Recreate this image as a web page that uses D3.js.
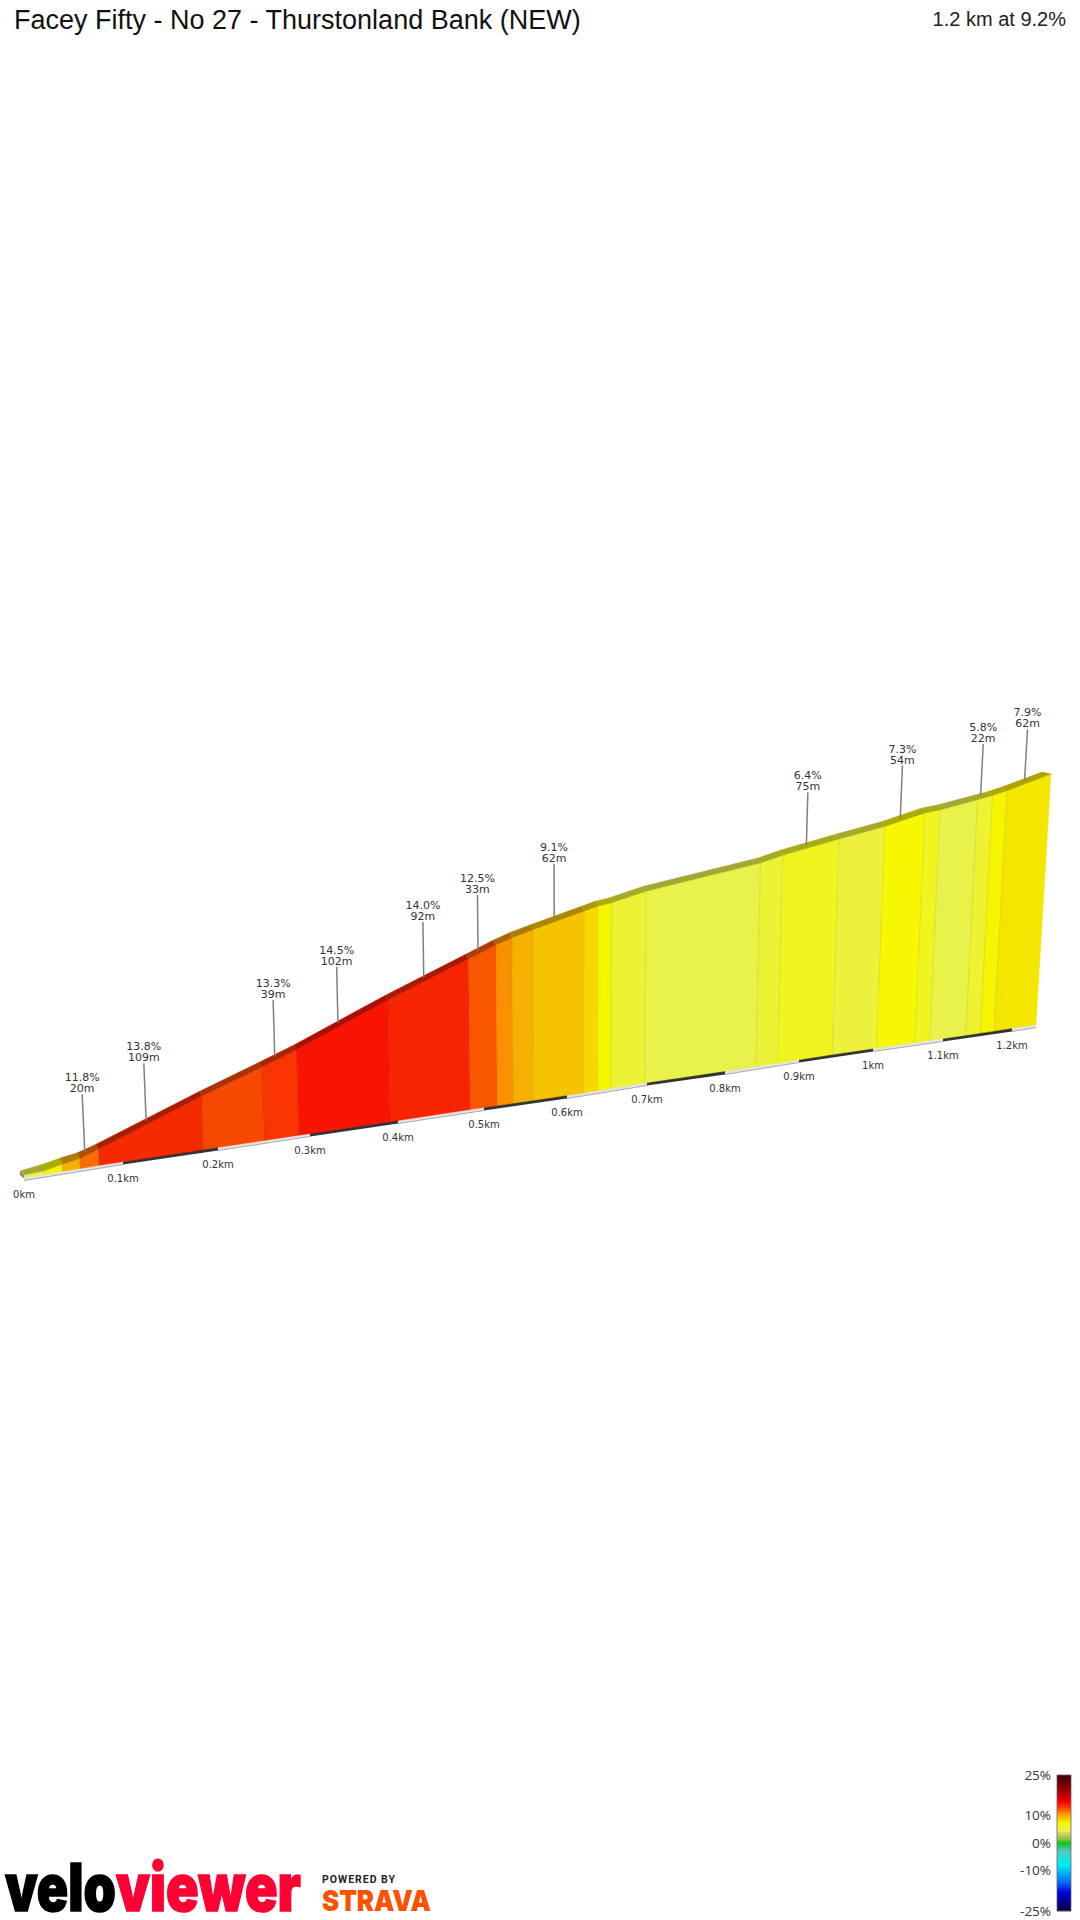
<!DOCTYPE html>
<html><head><meta charset="utf-8">
<script src="https://cdn.jsdelivr.net/npm/d3@7/dist/d3.min.js"></script>
<style>html,body{margin:0;padding:0;background:#fff}svg{display:block}</style>
</head><body><svg id="c" width="1080" height="1920"></svg>
<script>
const titleText = "Facey Fifty - No 27 - Thurstonland Bank (NEW)";
const summaryText = "1.2 km at 9.2%";
// distance ticks (km) with labels
const tickKm = [0,0.1,0.2,0.3,0.4,0.5,0.6,0.7,0.8,0.9,1,1.1,1.2];
const tickLabels = ["0km","0.1km","0.2km","0.3km","0.4km","0.5km","0.6km","0.7km","0.8km","0.9km","1km","1.1km","1.2km"];
const endKm = 1.235;
// segment boundaries (km) and elevation gained at each (m)
const segKm = [0,.021,.039,.057,.076,.185,.25,.288,.391,.484,.516,.535,.56,.621,.638,.655,.697,.842,.871,.945,1.005,1.06,1.081,1.133,1.154,1.174,1.235];
const segElev = [0,.4,1.9,3.1,5.6,21.2,29.6,34.7,50,62.4,66.7,68.9,71.1,76,77.4,78,81,87.4,89.5,93.7,97,101.2,101.8,104.7,105.9,107.4,112.7];
// gradient of each segment (%)
const segGrade = [4.5,7,10,11.8,13.8,12.8,13.3,14.5,14,12.5,11,10,9.1,8.5,7,5.5,4.5,5.5,6.4,5,7.3,6.4,4.5,5.8,7,7.9];
// labelled segments
const calloutSeg = [3,4,6,7,8,9,12,18,20,23,25];
const calloutGrade = ["11.8%","13.8%","13.3%","14.5%","14.0%","12.5%","9.1%","6.4%","7.3%","5.8%","7.9%"];
const calloutLen = ["20m","109m","39m","102m","92m","33m","62m","75m","54m","22m","62m"];
// colour key
const legendTicks = [25,10,0,-10,-25];
const rampGrade = [25,20,15,14.5,14,13.8,13.3,12.8,12.5,11.8,11,10,9.1,8.5,7.9,7.3,7,6.4,5.8,5,4.5,3,1,0,-3,-8,-15,-18,-25];
const rampColor = ["#3a0000","#900000","#f80000","#f81400","#f72400","#f52a00","#f83400","#f64800","#f95600","#f96c00","#f99000","#f6b000","#f5c400","#f8d800","#f5e600","#f6f700","#f5f500","#f0f520","#eef230","#ecf23c","#e9f248","#c8c860","#70c040","#10c810","#50c8c8","#00f0f0","#0060f0","#0000e0","#000040"];

const color = d3.scaleLinear().domain(rampGrade).range(rampColor).clamp(true);
// perspective ground projection
const xKm = d3.scaleLinear().domain(tickKm.concat(endKm)).range([24,123,218,310,398,484,567,647,725,799,873,943,1012,1036]);
const yKm = d3.scaleLinear().domain(tickKm.concat(endKm)).range([1178,1162,1148,1134,1121,1108,1096,1083,1072,1060,1049,1039,1029,1025]);
const pxPerM = d3.scaleLinear().domain([0,.6,endKm]).range([2.42,2.36,2.2]);
const lean = d3.scaleLinear().domain([0,.62,endKm]).range([-.05,0,.06]);
const backDx = d3.scaleLinear().domain([0,.02,1.1,endKm]).range([-4,-2,-3,-9]);
const backDy = d3.scaleLinear().domain([0,.02,.1,1.1,endKm]).range([-4,-6.5,-5,-5,-2]);
const leaderLen = d3.scaleLinear().domain([0,endKm]).range([58,51]);
const floorPx = 2.5;
const foot = k => [xKm(k), yKm(k)-0.5];
const head = (k,e) => { const H = floorPx + e*pxPerM(k); return [xKm(k)+H*lean(k), yKm(k)-0.5-H]; };
const back = (k,e) => { const p = head(k,e); return [p[0]+backDx(k), p[1]+backDy(k)]; };
const path = d3.line();
const segs = segGrade.map((g,i)=>({g,i,k0:segKm[i],k1:segKm[i+1],e0:segElev[i],e1:segElev[i+1]}));

const svg = d3.select("#c");
const font = "'DejaVu Sans',sans-serif";

svg.append("text").attr("x",14).attr("y",29).attr("font-family","'Liberation Sans',Arial,sans-serif").attr("font-size",27).attr("fill","#111").text(titleText);
svg.append("text").attr("x",1066).attr("y",26).attr("text-anchor","end").attr("font-family","'Liberation Sans',Arial,sans-serif").attr("font-size",20).attr("fill","#222").text(summaryText);

// ground ribbon
const ribbonStops = tickKm.concat(endKm);
const ribbon = d3.pairs(ribbonStops).map((p,i)=>({k0:p[0],k1:p[1],dark:i%2===1}));
svg.append("g").selectAll("path").data(ribbon).join("path")
  .attr("d",d=>path([[xKm(d.k0),yKm(d.k0)-1.5],[xKm(d.k1),yKm(d.k1)-1.5],[xKm(d.k1),yKm(d.k1)+2.5],[xKm(d.k0),yKm(d.k0)+2.5]])+"Z")
  .attr("fill",d=>d.dark?"#333":"#e4e4e4");
svg.append("g").selectAll("line").data(ribbon.filter(d=>!d.dark)).join("line")
  .attr("x1",d=>xKm(d.k0)).attr("y1",d=>yKm(d.k0)+2.5).attr("x2",d=>xKm(d.k1)).attr("y2",d=>yKm(d.k1)+2.5)
  .attr("stroke","#aaa").attr("stroke-width",1);

// walls
svg.append("g").selectAll("path").data(segs).join("path")
  .attr("d",d=>path([foot(d.k0),foot(d.k1),head(d.k1,d.e1),head(d.k0,d.e0)])+"Z")
  .attr("fill",d=>color(d.g)).attr("stroke",d=>color(d.g)).attr("stroke-width",.4);
// segment separators
svg.append("g").selectAll("line").data(segs.slice(1)).join("line")
  .attr("x1",d=>foot(d.k0)[0]).attr("y1",d=>foot(d.k0)[1])
  .attr("x2",d=>head(d.k0,d.e0)[0]).attr("y2",d=>head(d.k0,d.e0)[1])
  .attr("stroke","#000").attr("stroke-opacity",.09).attr("stroke-width",1);
// left end cap
svg.append("path").attr("d",path([[foot(0)[0],foot(0)[1]+1],head(0,0),back(0,0),[back(0,0)[0],back(0,0)[1]+4]])+"Z").attr("fill","#8a8a8a");
// top surface
svg.append("g").selectAll("path").data(segs).join("path")
  .attr("d",d=>path([head(d.k0,d.e0),head(d.k1,d.e1),back(d.k1,d.e1),back(d.k0,d.e0)])+"Z")
  .attr("fill",d=>d3.rgb(color(d.g)).darker(1)).attr("stroke",d=>d3.rgb(color(d.g)).darker(1)).attr("stroke-width",.4);

// distance labels
svg.append("g").selectAll("text").data(tickKm).join("text")
  .attr("x",d=>xKm(d)).attr("y",d=>yKm(d)+20).attr("text-anchor","middle")
  .attr("font-family",font).attr("font-size",10).attr("fill","#333")
  .text((d,i)=>tickLabels[i]);

// callouts
const calloutData = calloutSeg.map((s,i)=>{
  const k=(segKm[s]+segKm[s+1])/2, e=(segElev[s]+segElev[s+1])/2, p=head(k,e);
  const end=[p[0]-4.5,p[1]-2], L=leaderLen(k);
  return {end,top:[end[0]+L*lean(k),end[1]-L],a:calloutGrade[i],b:calloutLen[i]};
});
const cg = svg.append("g").selectAll("g").data(calloutData).join("g");
cg.append("line").attr("x1",d=>d.top[0]).attr("y1",d=>d.top[1]).attr("x2",d=>d.end[0]).attr("y2",d=>d.end[1]).attr("stroke","#808080").attr("stroke-width",1.5);
cg.append("text").attr("x",d=>d.top[0]).attr("y",d=>d.top[1]-13).attr("text-anchor","middle").attr("font-family",font).attr("font-size",11).attr("fill","#333").text(d=>d.a);
cg.append("text").attr("x",d=>d.top[0]).attr("y",d=>d.top[1]-2).attr("text-anchor","middle").attr("font-family",font).attr("font-size",11).attr("fill","#333").text(d=>d.b);

// colour key
const yLegend = d3.scaleLinear().domain([25,-25]).range([1775,1911]);
svg.append("g").selectAll("rect").data(d3.range(1775,1911)).join("rect")
  .attr("x",1057).attr("width",14).attr("y",d=>d).attr("height",1.2)
  .attr("fill",d=>color(yLegend.invert(d+.5)));
svg.append("rect").attr("x",1057).attr("y",1775).attr("width",14).attr("height",136).attr("fill","none").attr("stroke","#7a5a7a").attr("stroke-width",.8);
svg.append("g").selectAll("text").data(legendTicks).join("text")
  .attr("x",1051).attr("y",d=>yLegend(d)+4.5).attr("text-anchor","end")
  .attr("font-family","'Open Sans',sans-serif").attr("font-size",13.5).attr("fill","#333").text(d=>d+"%");

// branding
const logoFont="Inter,'Open Sans',sans-serif";
svg.append("text").attr("x",5).attr("y",1911).attr("font-family",logoFont).attr("font-weight",900).attr("font-size",66)
  .attr("textLength",111).attr("lengthAdjust","spacingAndGlyphs").attr("fill","#000").attr("stroke","#000").attr("stroke-width",1.5).text("velo");
svg.append("text").attr("x",116).attr("y",1911).attr("font-family",logoFont).attr("font-weight",900).attr("font-size",66)
  .attr("textLength",185).attr("lengthAdjust","spacingAndGlyphs").attr("fill","#ff0033").attr("stroke","#ff0033").attr("stroke-width",1.5).text("viewer");
svg.append("text").attr("x",322).attr("y",1883).attr("font-family","Roboto,sans-serif").attr("font-weight",700).attr("font-size",10.5)
  .attr("textLength",73).attr("fill","#222").text("POWERED BY");
svg.append("text").attr("x",322).attr("y",1911).attr("font-family",logoFont).attr("font-weight",900).attr("font-size",29)
  .attr("textLength",109).attr("lengthAdjust","spacingAndGlyphs").attr("fill","#fc5200").text("STRAVA");
</script></body></html>
